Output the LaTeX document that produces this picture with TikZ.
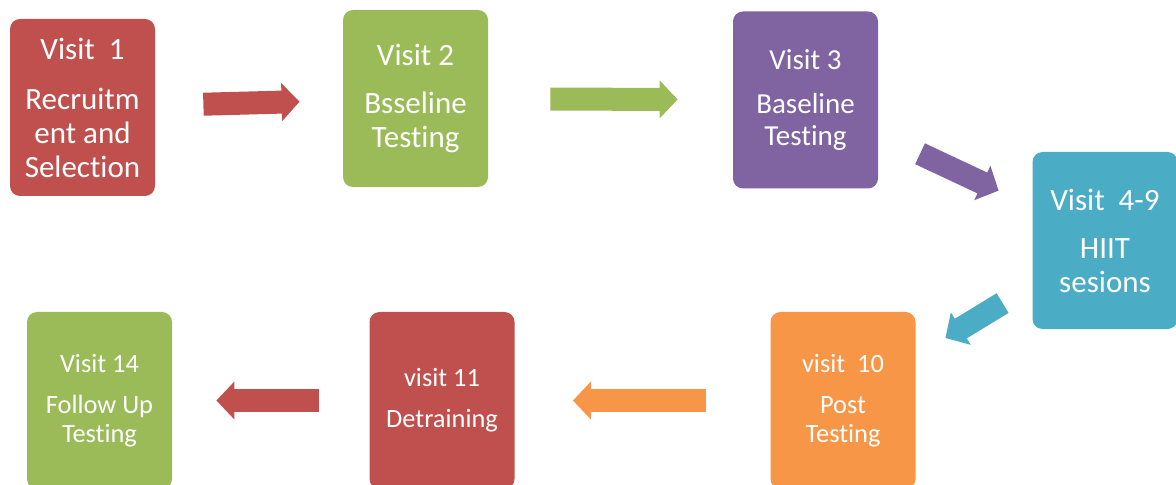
\documentclass[tikz,border=0pt]{standalone}
\usepackage{fontspec}
\setmainfont{Carlito}[Ligatures=NoCommon]
\usetikzlibrary{arrows.meta}
\definecolor{vred}{HTML}{C0504D}
\definecolor{vgreen}{HTML}{9BBB59}
\definecolor{vpurple}{HTML}{8064A2}
\definecolor{vteal}{HTML}{4BACC6}
\definecolor{vorange}{HTML}{F79646}
\tikzset{
	visitbox/.style={fill=#1, rounded corners=5pt, minimum width=72.5pt, minimum height=88.5pt, inner sep=0pt, text=white, align=center},
	bigtext/.style={font=\fontsize{15.5}{17}\selectfont},
	midtext/.style={font=\fontsize{14.5}{16}\selectfont},
	smalltext/.style={font=\fontsize{13.2}{14.5}\selectfont},
	bigarrow/.style={draw=#1, line width=11.5pt, -{Triangle[length=9pt,width=18.5pt]}}
}

\begin{document}
\begin{tikzpicture}[x=0.5pt,y=-0.5pt]
	\useasboundingbox (0,0) rectangle (1176,485);
	\clip (0,0) rectangle (1176,485);
	\node [visitbox=vred, bigtext] (v1) at (82.5,107.5) {Visit~~1\\[8pt]Recruitm\\ent and\\Selection};
	\node [visitbox=vgreen, bigtext] (v2) at (415.5,98.5) {Visit 2\\[7pt]Bsseline\\Testing};
	\node [visitbox=vpurple, midtext] (v3) at (805.5,100) {Visit 3\\[6pt]Baseline\\Testing};
	\node [visitbox=vteal, bigtext] (v4) at (1105,240.5) {Visit~~4-9\\[7pt]HIIT\\sesions};
	\node [visitbox=vorange, smalltext] (v10) at (843,400.5) {visit~~10\\[6pt]Post\\Testing};
	\node [visitbox=vred, smalltext] (v11) at (442,400.5) {visit 11\\[6pt]Detraining};
	\node [visitbox=vgreen, smalltext] (v14) at (99.5,400.5) {Visit 14\\[6pt]Follow Up\\Testing};
	\foreach \a/\b/\c/\s/\e in {v1/v2/vred/24/21.5, v2/v3/vgreen/31/27.5, v3/v4/vpurple/23/18.5, v4/v10/vteal/17.3/17.3, v10/v11/vorange/32/29, v11/v14/vred/25/22}
	{
	\draw [bigarrow=\c, shorten <=\s pt, shorten >=\e pt] (\a) -- (\b);
	}
\end{tikzpicture}
\end{document}
